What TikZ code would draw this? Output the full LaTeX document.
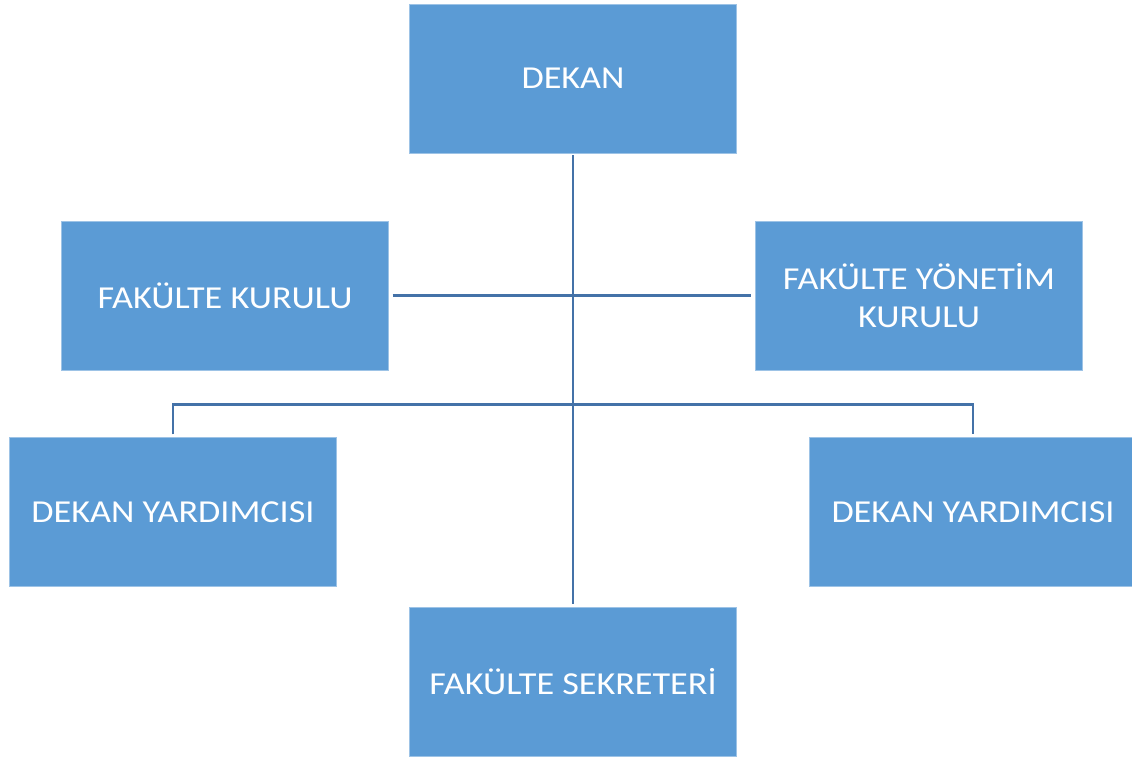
\documentclass[tikz,border=0pt]{standalone}
\usepackage{fontspec}
\setmainfont{Carlito}[FakeStretch=1.13]
\usetikzlibrary{positioning}
\definecolor{boxblue}{HTML}{5B9BD5}
\definecolor{lineblue}{HTML}{4472A8}

\begin{document}
\begin{tikzpicture}[x=1pt,y=-1pt,very thick,
box/.style={rectangle,fill=boxblue,draw=boxblue!60!white,thin,text=white,minimum width=327pt,minimum height=149pt,inner sep=0pt,align=center,font=\fontsize{32}{37.5}\selectfont},
link/.style={draw=lineblue,line width=2.6pt}]
\useasboundingbox (0,0) rectangle (1132,758);

\node[box](dekan) at (573,78.5){DEKAN};
\node[box](kurul) at (225,295.5){FAKÜLTE KURULU};
\node[box](yonetim) at (919,295.5){FAKÜLTE YÖNETİM\\KURULU};
\node[box](yard1) at (173,512){DEKAN YARDIMCISI};
\node[box](yard2) at (973,512){DEKAN YARDIMCISI};
\node[box](sekreter) at (573,682){FAKÜLTE SEKRETERİ};

\path[link](dekan)edge[shorten <=2pt,shorten >=3pt](sekreter)
(kurul)edge[shorten <=4pt,shorten >=4pt](yonetim);
\draw[link,shorten <=3pt,shorten >=3pt](yard1.north)--++(0,-33)-|(yard2.north);

\end{tikzpicture}
\end{document}
